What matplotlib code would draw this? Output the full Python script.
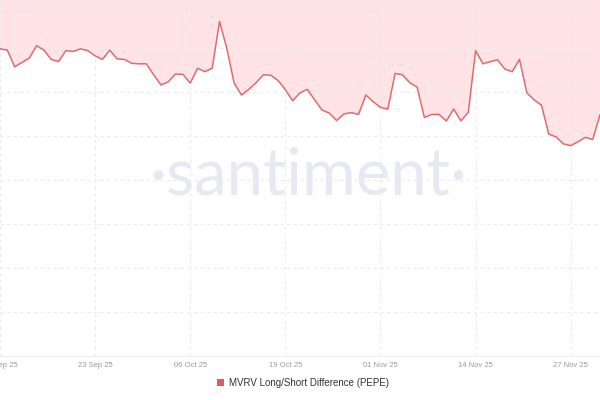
import matplotlib
matplotlib.use("Agg")
import matplotlib.pyplot as plt
import matplotlib.dates as mdates
from matplotlib.patches import Patch
import pandas as pd
import numpy as np

# daily values, 10 Sep 2025 onwards
start_date = "2025-09-10"
mvrv_ls = [-10.2, -10.5, -14.3, -13.3, -12.3, -9.5, -10.5, -12.6, -13.1, -10.6,
           -10.8, -10.2, -10.6, -11.8, -12.6, -10.5, -12.5, -12.6, -13.5, -13.6,
           -13.6, -16.1, -18.4, -17.7, -15.9, -16.0, -18.0, -14.6, -15.4, -14.6,
           -4.0, -10.1, -18.0, -20.7, -19.4, -17.9, -16.1, -16.2, -17.4, -19.5,
           -22.0, -20.2, -19.4, -21.8, -24.1, -24.8, -26.5, -25.0, -24.7, -25.1,
           -20.7, -22.2, -23.5, -23.9, -15.8, -16.1, -17.9, -18.9, -25.8, -25.1,
           -25.1, -26.6, -23.9, -26.6, -24.6, -10.6, -13.6, -13.1, -12.7, -14.8,
           -15.4, -12.6, -20.2, -21.8, -23.0, -29.6, -30.2, -31.8, -32.2, -31.3,
           -30.3, -30.8, -25.2]
tick_dates = ["2025-09-10", "2025-09-23", "2025-10-06", "2025-10-19",
              "2025-11-01", "2025-11-14", "2025-11-27"]
series_name = "MVRV Long/Short Difference (PEPE)"

dates = pd.date_range(start_date, periods=len(mvrv_ls), freq="D")
t0 = pd.Timestamp(start_date)

line_col = "#df6b6e"
fill_col = "#ffe3e5"

fig = plt.figure(figsize=(6, 4), dpi=100)
ax = fig.add_axes([0, 0.11, 1, 0.89])

y_top = 0.9
ax.set_ylim(-80, y_top)
ax.set_xlim(t0 + pd.Timedelta(days=0.34), t0 + pd.Timedelta(days=82.0))

ax.fill_between(dates, mvrv_ls, y_top, color=fill_col, lw=0, zorder=1)
ax.plot(dates, mvrv_ls, color=line_col, lw=1.1, zorder=3)

ax.set_xticks(pd.to_datetime(tick_dates))
ax.xaxis.set_major_formatter(mdates.DateFormatter("%d %b %y"))
ax.set_yticks(np.arange(-80, 1, 10))
ax.set_yticklabels([])
ax.tick_params(axis="both", length=0)
ax.tick_params(axis="x", labelsize=5.5, labelcolor="#999999", pad=4)
for lab in ax.get_xticklabels():
    lab.set_fontfamily("Liberation Sans")

ax.grid(True, color="#ebebeb", lw=0.8, ls=(0, (3, 3)), zorder=2)
for s in ["top", "left", "right"]:
    ax.spines[s].set_visible(False)
ax.spines["bottom"].set_color("#efefef")
ax.spines["bottom"].set_linewidth(0.8)

# watermark
ax.text(0.514, 0.506, "\u00b7santiment\u00b7", transform=ax.transAxes,
        ha="center", va="center", fontsize=47, color="#e7e8f1",
        family="Lato", fontweight="normal", zorder=2)

handle = Patch(facecolor="#e05a5e", edgecolor="none")
fig.legend([handle], [series_name], loc="center", bbox_to_anchor=(0.505, 0.043),
           frameon=False, prop={"family": "Liberation Sans", "size": 7},
           handlelength=0.65, handleheight=0.65,
           handletextpad=0.5, labelcolor="#333333")

fig.savefig("out.png", dpi=100)
